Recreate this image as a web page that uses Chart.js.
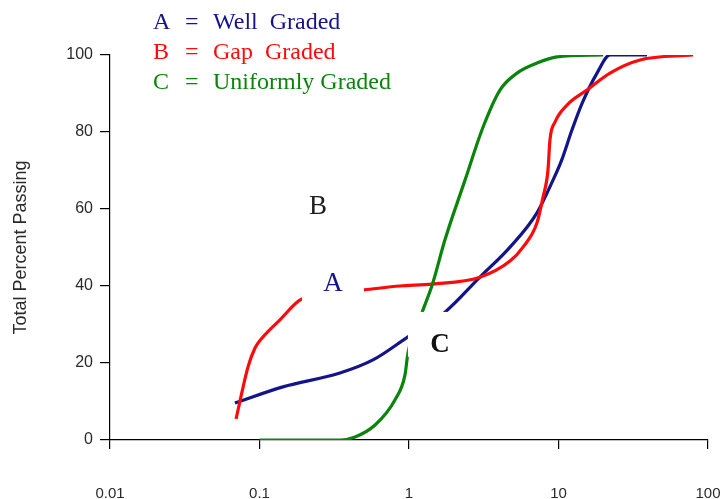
<!DOCTYPE html>
<html>
<head>
<meta charset="utf-8">
<script src="https://cdn.jsdelivr.net/npm/chart.js@4/dist/chart.umd.min.js"></script>
<style>
  html, body { margin: 0; padding: 0; background: #fff; overflow: hidden; }
  #wrap { width: 723px; height: 499px; position: relative; }
</style>
</head>
<body>
<div id="wrap"><canvas id="grading"></canvas></div>
<script>
// Particle size (mm) and total percent passing for each grading curve
const wellSize   = [0.0685, 0.1435, 0.345, 0.574, 0.984, 1.74, 2.98, 4.74, 7.18, 9.19, 10.5, 12.3, 14.4, 18.1, 22.1, 39.1];
const wellPass   = [9.6, 13.8, 17.4, 20.8, 26.8, 33.2, 42.3, 50.1, 59.0, 67.5, 72.7, 80.5, 87.5, 95.3, 100, 100];

const gapSize    = [0.0697, 0.0838, 0.0933, 0.104, 0.137, 0.192, 0.50, 0.87, 1.43, 2.98, 4.74, 5.79, 7.18, 7.87, 8.5, 8.77, 9.48, 11.4, 15.5, 22.1, 35.1, 79.4];
const gapPass    = [5.5, 19.0, 23.9, 26.5, 31.2, 36.6, 39.0, 40.0, 40.5, 42.3, 46.5, 50.1, 56.4, 63.0, 70.0, 78.0, 82.6, 87.0, 90.9, 95.3, 98.7, 100];

const uniformSize = [0.1, 0.345, 0.436, 0.593, 0.805, 0.94, 0.984, 1.22, 1.43, 1.74, 2.37, 3.13, 4.06, 5.28, 7.18, 9.77, 19.9];
const uniformPass = [0, 0, 0.8, 3.9, 10.4, 16.9, 22.6, 33, 40.3, 52, 67.5, 81.3, 90.9, 95.3, 97.9, 99.5, 100];

const seriesKeys  = ['A', 'B', 'C'];
const seriesNames = ['Well\u00a0\u00a0Graded', 'Gap\u00a0\u00a0Graded', 'Uniformly Graded'];
const xTickValues = [0.01, 0.1, 1, 10, 100];
const xTickLabels = ['0.01', '0.1', '1', '10', '100'];

const colors = ['#14148a', '#ff0a0a', '#0a840a'];

function points(xs, ys) { return xs.map((x, i) => ({ x: x, y: ys[i] })); }

// Key in the top-left corner: letter, "=", description
const keyPlugin = {
  id: 'gradingKey',
  afterDraw(chart) {
    const ctx = chart.ctx;
    ctx.save();
    ctx.font = '24px "Liberation Serif", "Times New Roman", serif';
    ctx.textBaseline = 'alphabetic';
    ctx.textAlign = 'left';
    seriesKeys.forEach((k, i) => {
      const y = 29 + i * 30;
      ctx.fillStyle = colors[i];
      ctx.fillText(k, 153, y);
      ctx.fillText('=', 185, y);
      ctx.fillText(seriesNames[i], 213, y);
    });
    ctx.restore();
  }
};

// Curve letters inside the plot, on white patches that break the lines
const curveLetters = [
  { text: 'B', x: 0.246, y: 60.5, color: '#1e1e1e', box: null },
  { text: 'A', x: 0.31,  y: 40.5, color: '#14148a', box: [-31, -22, 62, 41] },
  { text: 'C', x: 1.61,  y: 24.7, color: '#111111', box: [-32, -33, 62, 45], bold: true }
];
const letterPlugin = {
  id: 'curveLetters',
  afterDatasetsDraw(chart) {
    const ctx = chart.ctx;
    const xs = chart.scales.x, ys = chart.scales.y;
    ctx.save();
    curveLetters.forEach(l => {
      const px = xs.getPixelForValue(l.x);
      const py = ys.getPixelForValue(l.y);
      if (l.box) {
        ctx.fillStyle = '#ffffff';
        ctx.fillRect(px + l.box[0], py + l.box[1], l.box[2], l.box[3]);
      }
      ctx.fillStyle = l.color;
      ctx.font = (l.bold ? 'bold ' : '') + '27px "Liberation Serif", "Times New Roman", serif';
      ctx.textAlign = 'center';
      ctx.textBaseline = 'middle';
      ctx.fillText(l.text, px, py);
    });
    ctx.restore();
  }
};

const sansFont = '"Liberation Sans", Arial, sans-serif';

new Chart(document.getElementById('grading'), {
  type: 'line',
  data: {
    datasets: [
      { label: seriesNames[0], data: points(wellSize, wellPass), borderColor: colors[0], order: 2 },
      { label: seriesNames[1], data: points(gapSize, gapPass), borderColor: colors[1], order: 1 },
      { label: seriesNames[2], data: points(uniformSize, uniformPass), borderColor: colors[2], order: 0 }
    ]
  },
  options: {
    responsive: true,
    maintainAspectRatio: false,
    animation: false,
    layout: { padding: { top: 55, right: 15, bottom: 0, left: 0 } },
    elements: {
      line: { borderWidth: 3.2, cubicInterpolationMode: 'monotone', fill: false },
      point: { radius: 0, hoverRadius: 0 }
    },
    plugins: {
      legend: { display: false },
      tooltip: { enabled: false }
    },
    scales: {
      x: {
        type: 'logarithmic',
        min: 0.01,
        max: 100,
        afterBuildTicks(scale) { scale.ticks = xTickValues.map(v => ({ value: v })); },
        afterFit(scale) {
          scale.height = 59;
          scale.paddingLeft = 0;
          scale.paddingRight = 0;
        },
        grid: { drawOnChartArea: false, drawTicks: true, tickLength: 9, color: '#000', lineWidth: 1.2 },
        border: { color: '#000', width: 1.2 },
        ticks: {
          autoSkip: false,
          maxRotation: 0,
          padding: 36,
          color: '#2a2a2a',
          font: { family: sansFont, size: 15 },
          callback(value, index) { return xTickLabels[index]; }
        }
      },
      y: {
        type: 'linear',
        min: 0,
        max: 100,
        afterFit(scale) {
          scale.width = 110;
          scale.paddingTop = 0;
          scale.paddingBottom = 0;
        },
        grid: { drawOnChartArea: false, drawTicks: true, tickLength: 10, color: '#000', lineWidth: 1.2 },
        border: { color: '#000', width: 1.2 },
        ticks: {
          stepSize: 20,
          padding: 7,
          color: '#2a2a2a',
          font: { family: sansFont, size: 16 }
        },
        title: {
          display: true,
          text: 'Total Percent Passing',
          color: '#2a2a2a',
          font: { family: sansFont, size: 18 },
          padding: { top: 10, bottom: 0 }
        }
      }
    }
  },
  plugins: [keyPlugin, letterPlugin]
});
</script>
</body>
</html>
